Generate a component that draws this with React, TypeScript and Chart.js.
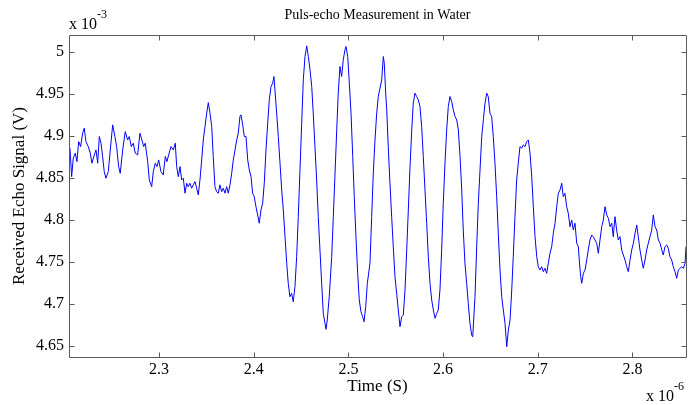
import { useEffect, useRef } from 'react';
import { Chart, registerables } from 'chart.js';

Chart.register(...registerables);

// Time in units of 1e-6 s
const timeUs = [
  2.2060, 2.2078, 2.2095, 2.2116, 2.2134, 2.2152, 2.2173, 2.2194, 2.2211, 2.2229,
  2.2253, 2.2275, 2.2292, 2.2317, 2.2335, 2.2353, 2.2370, 2.2388, 2.2405, 2.2422,
  2.2440, 2.2465, 2.2486, 2.2511, 2.2535, 2.2553, 2.2574, 2.2591, 2.2617, 2.2644,
  2.2669, 2.2686, 2.2708, 2.2729, 2.2750, 2.2775, 2.2799, 2.2820, 2.2838, 2.2855,
  2.2881, 2.2898, 2.2923, 2.2940, 2.2961, 2.2979, 2.2997, 2.3021, 2.3045, 2.3067,
  2.3084, 2.3102, 2.3127, 2.3151, 2.3172,
  2.3187, 2.3204, 2.3222, 2.3240, 2.3257, 2.3275, 2.3293, 2.3309, 2.3327, 2.3345,
  2.3362, 2.3380, 2.3398, 2.3415, 2.3433, 2.3451, 2.3468, 2.3486, 2.3504, 2.3521,
  2.3539, 2.3557, 2.3573, 2.3591, 2.3609, 2.3626, 2.3644, 2.3662, 2.3679, 2.3697,
  2.3715, 2.3732, 2.3750, 2.3768, 2.3785, 2.3803, 2.3821, 2.3837, 2.3855, 2.3866,
  2.3884, 2.3901, 2.3919, 2.3937, 2.3954, 2.3972, 2.3989, 2.4006, 2.4024, 2.4042,
  2.4059, 2.4077, 2.4095, 2.4112, 2.4130, 2.4148, 2.4165, 2.4183, 2.4201, 2.4214,
  2.4243, 2.4260, 2.4278, 2.4296, 2.4313, 2.4331, 2.4349, 2.4365, 2.4383, 2.4401,
  2.4418, 2.4436, 2.4454, 2.4471, 2.4489, 2.4507, 2.4524, 2.4542, 2.4560, 2.4577,
  2.4595, 2.4613, 2.4629, 2.4647, 2.4665, 2.4682, 2.4700, 2.4718, 2.4735, 2.4753,
  2.4764, 2.4777, 2.4798, 2.4824, 2.4841, 2.4859, 2.4877, 2.4893, 2.4911, 2.4929,
  2.4946, 2.4964, 2.4975, 2.4993, 2.5010, 2.5028, 2.5046, 2.5062, 2.5080, 2.5098,
  2.5115, 2.5133, 2.5151, 2.5165, 2.5183, 2.5200,
  2.5228, 2.5246, 2.5263, 2.5281, 2.5299, 2.5316, 2.5334, 2.5352, 2.5369, 2.5379,
  2.5394, 2.5405, 2.5421, 2.5439, 2.5457, 2.5474, 2.5492, 2.5510, 2.5527, 2.5545,
  2.5563, 2.5580, 2.5598, 2.5616, 2.5633, 2.5651, 2.5669, 2.5685, 2.5703, 2.5721,
  2.5738, 2.5756, 2.5774, 2.5791, 2.5809, 2.5827, 2.5844, 2.5862, 2.5880, 2.5897,
  2.5915, 2.5933, 2.5949, 2.5967, 2.5985, 2.6002, 2.6020, 2.6038, 2.6055, 2.6073,
  2.6091, 2.6108, 2.6126, 2.6144, 2.6161, 2.6179, 2.6197, 2.6213, 2.6231, 2.6249,
  2.6266, 2.6284, 2.6302, 2.6313,
  2.6337, 2.6355, 2.6372, 2.6390, 2.6408, 2.6425, 2.6443, 2.6461, 2.6477, 2.6495,
  2.6513, 2.6530, 2.6548, 2.6566, 2.6583, 2.6601, 2.6619, 2.6636, 2.6654, 2.6672,
  2.6689, 2.6707, 2.6725, 2.6741, 2.6759, 2.6777, 2.6794, 2.6812, 2.6830, 2.6847,
  2.6865, 2.6883, 2.6900, 2.6918, 2.6936, 2.6953, 2.6971, 2.6989, 2.7005, 2.7023,
  2.7041, 2.7058, 2.7076, 2.7094, 2.7111, 2.7129, 2.7147, 2.7164, 2.7182, 2.7200,
  2.7217, 2.7235, 2.7253, 2.7269, 2.7287, 2.7305, 2.7322, 2.7340, 2.7358, 2.7375,
  2.7393,
  2.7411, 2.7428, 2.7438, 2.7453, 2.7464, 2.7481, 2.7499, 2.7517, 2.7533, 2.7551,
  2.7569, 2.7586, 2.7604, 2.7622, 2.7639, 2.7657, 2.7675, 2.7692, 2.7710, 2.7728,
  2.7745, 2.7763, 2.7781, 2.7797, 2.7815, 2.7833, 2.7850, 2.7868, 2.7886, 2.7903,
  2.7921, 2.7939, 2.7956, 2.7974, 2.7992, 2.8009, 2.8027, 2.8045, 2.8061, 2.8079,
  2.8097, 2.8114, 2.8132, 2.8150, 2.8167, 2.8185, 2.8203, 2.8220, 2.8238, 2.8256,
  2.8273, 2.8291, 2.8309, 2.8325, 2.8343, 2.8361, 2.8378, 2.8396, 2.8414, 2.8431,
  2.8449, 2.8467, 2.8484, 2.8502, 2.8520, 2.8537, 2.8555, 2.8565,
];

// Received echo signal in units of 1e-3 V
const echoMv = [
  4.8854, 4.8515, 4.8734, 4.8794, 4.8694, 4.8932, 4.8873, 4.9032, 4.9092, 4.8932,
  4.8873, 4.8794, 4.8675, 4.8774, 4.8833, 4.8675, 4.8992, 4.8913, 4.8754, 4.8575,
  4.8496, 4.8575, 4.8833, 4.9131, 4.8992, 4.8873, 4.8635, 4.8556, 4.8833, 4.9051,
  4.8952, 4.8992, 4.8873, 4.8913, 4.8794, 4.8774, 4.9032, 4.8952, 4.8873, 4.8913,
  4.8694, 4.8476, 4.8396, 4.8575, 4.8675, 4.8635, 4.8714, 4.8575, 4.8536, 4.8754,
  4.8694, 4.8774, 4.8873, 4.8833, 4.8913,
  4.8635, 4.8515, 4.8635, 4.8476, 4.8496, 4.8318, 4.8437, 4.8396, 4.8437, 4.8377,
  4.8417, 4.8456, 4.8377, 4.8298, 4.8476, 4.8714, 4.8952, 4.9111, 4.9270, 4.9396,
  4.9270, 4.9111, 4.8754, 4.8396, 4.8337, 4.8318, 4.8417, 4.8337, 4.8377, 4.8318,
  4.8396, 4.8318, 4.8417, 4.8556, 4.8714, 4.8833, 4.8952, 4.9032, 4.9230, 4.9250,
  4.9131, 4.8992, 4.8992, 4.8714, 4.8595, 4.8515, 4.8318, 4.8277, 4.8158, 4.8060,
  4.7961, 4.8119, 4.8199, 4.8437, 4.8833, 4.9151, 4.9429, 4.9587, 4.9627, 4.9706,
  4.9270, 4.8992, 4.8675, 4.8357, 4.8119, 4.7801, 4.7485, 4.7246, 4.7087, 4.7127,
  4.7027, 4.7206, 4.7563, 4.8039, 4.8595, 4.9151, 4.9667, 4.9944, 5.0071, 4.9944,
  4.9786, 4.9587, 4.9270, 4.8873, 4.8476, 4.8039, 4.7643, 4.7246, 4.6889, 4.6770,
  4.6699, 4.6810, 4.7087, 4.7563, 4.8039, 4.8556, 4.9071, 4.9508, 4.9825, 4.9706,
  4.9905, 5.0024, 5.0063, 4.9944, 4.9627, 4.9270, 4.8754, 4.8277, 4.7801, 4.7365,
  4.7048, 4.6908, 4.6849, 4.6789, 4.6968, 4.7246,
  4.7485, 4.8039, 4.8556, 4.8952, 4.9270, 4.9468, 4.9568, 4.9667, 4.9944, 4.9865,
  4.9508, 4.9310, 4.8873, 4.8437, 4.8039, 4.7682, 4.7325, 4.7127, 4.6929, 4.6730,
  4.6849, 4.6869, 4.7167, 4.7643, 4.8119, 4.8635, 4.9071, 4.9389, 4.9508, 4.9468,
  4.9429, 4.9349, 4.9111, 4.8754, 4.8357, 4.7961, 4.7563, 4.7246, 4.7048, 4.6929,
  4.6830, 4.6889, 4.6929, 4.7167, 4.7643, 4.8199, 4.8675, 4.9071, 4.9349, 4.9468,
  4.9408, 4.9310, 4.9230, 4.9190, 4.9071, 4.8754, 4.8357, 4.7881, 4.7485, 4.7246,
  4.7008, 4.6770, 4.6631, 4.6611,
  4.7087, 4.7682, 4.8199, 4.8595, 4.8992, 4.9190, 4.9389, 4.9508, 4.9468, 4.9270,
  4.9230, 4.8992, 4.8675, 4.8277, 4.7842, 4.7405, 4.7087, 4.6929, 4.6770, 4.6492,
  4.6690, 4.6810, 4.7167, 4.7563, 4.8039, 4.8476, 4.8675, 4.8873, 4.8854, 4.8893,
  4.8873, 4.8932, 4.8952, 4.8794, 4.8515, 4.8158, 4.7801, 4.7563, 4.7444, 4.7405,
  4.7444, 4.7385, 4.7425, 4.7365, 4.7485, 4.7604, 4.7682, 4.7842, 4.7961, 4.8158,
  4.8318, 4.8357, 4.8437, 4.8277, 4.8318, 4.8158, 4.8080, 4.7920, 4.8000, 4.7881,
  4.7961,
  4.7723, 4.7682, 4.7524, 4.7325, 4.7246, 4.7365, 4.7405, 4.7524, 4.7643, 4.7762,
  4.7821, 4.7801, 4.7762, 4.7723, 4.7604, 4.7762, 4.7920, 4.8000, 4.8158, 4.8060,
  4.8020, 4.7920, 4.7961, 4.7801, 4.8039, 4.7881, 4.7762, 4.7801, 4.7643, 4.7583,
  4.7524, 4.7444, 4.7385, 4.7524, 4.7643, 4.7723, 4.7842, 4.7940, 4.7801, 4.7643,
  4.7524, 4.7425, 4.7524, 4.7643, 4.7723, 4.7801, 4.7881, 4.8060, 4.7920, 4.7881,
  4.7762, 4.7723, 4.7643, 4.7583, 4.7682, 4.7702, 4.7663, 4.7563, 4.7524, 4.7444,
  4.7385, 4.7306, 4.7405, 4.7425, 4.7444, 4.7425, 4.7485, 4.7682,
];

const TITLE = 'Puls-echo Measurement in Water';
const X_LABEL = 'Time (S)';
const Y_LABEL = 'Received Echo Signal (V)';
const X_EXPONENT = '-6';
const Y_EXPONENT = '-3';

const X_MIN = 2.205;
const X_MAX = 2.8565;
const Y_MIN = 4.637;
const Y_MAX = 5.02;

const FONT = '"Liberation Serif", "Times New Roman", serif';
const AXIS_COLOR = '#5a5a5a';

const fmt = (v: number | string) => String(Number(Number(v).toFixed(2)));

const matlabFrame = {
  id: 'matlabFrame',
  afterDraw(chart: any) {
    const { ctx, chartArea: a, scales } = chart;
    const L = Math.round(a.left) + 0.5;
    const R = Math.round(a.right) + 0.5;
    const T = Math.round(a.top) + 0.5;
    const B = Math.round(a.bottom) + 0.5;
    ctx.save();
    ctx.strokeStyle = AXIS_COLOR;
    ctx.lineWidth = 1;
    ctx.beginPath();
    ctx.rect(L, T, R - L, B - T);
    const tl = 5;
    scales.x.ticks.forEach((_t: any, i: number) => {
      const px = Math.round(scales.x.getPixelForTick(i)) + 0.5;
      ctx.moveTo(px, B);
      ctx.lineTo(px, B - tl);
      ctx.moveTo(px, T);
      ctx.lineTo(px, T + tl);
    });
    scales.y.ticks.forEach((_t: any, i: number) => {
      const py = Math.round(scales.y.getPixelForTick(i)) + 0.5;
      ctx.moveTo(L, py);
      ctx.lineTo(L + tl, py);
      ctx.moveTo(R, py);
      ctx.lineTo(R - tl, py);
    });
    ctx.stroke();

    ctx.fillStyle = '#000';
    ctx.textBaseline = 'middle';
    const cx = (a.left + a.right) / 2;
    const cy = (a.top + a.bottom) / 2;

    ctx.textAlign = 'center';
    ctx.font = `14px ${FONT}`;
    ctx.fillText(TITLE, cx, 15);
    ctx.font = `17px ${FONT}`;
    ctx.fillText(X_LABEL, cx, 387);

    ctx.save();
    ctx.translate(20, cy);
    ctx.rotate(-Math.PI / 2);
    ctx.fillText(Y_LABEL, 0, 0);
    ctx.restore();

    // exponent labels
    ctx.textAlign = 'left';
    ctx.font = `16px ${FONT}`;
    const base = 'x 10';
    const w = ctx.measureText(base).width;
    ctx.fillText(base, a.left, 25);
    ctx.font = `12px ${FONT}`;
    ctx.fillText(Y_EXPONENT, a.left + w, 15);

    ctx.font = `16px ${FONT}`;
    const bx = 646;
    ctx.fillText(base, bx, 397);
    ctx.font = `12px ${FONT}`;
    ctx.fillText(X_EXPONENT, bx + w, 387);
    ctx.restore();
  },
};

export default function App() {
  const ref = useRef<HTMLCanvasElement>(null);
  useEffect(() => {
    if (!ref.current) return;
    const points = timeUs.map((t, i) => ({ x: t, y: echoMv[i] }));
    const chart = new Chart(ref.current, {
      type: 'line',
      data: {
        datasets: [
          {
            data: points,
            borderColor: '#0000ff',
            borderWidth: 1,
            pointRadius: 0,
            tension: 0,
            fill: false,
          },
        ],
      },
      options: {
        animation: false,
        responsive: false,
        events: [],
        layout: { padding: { top: 35, right: 12, left: 0, bottom: 0 } },
        plugins: { legend: { display: false }, tooltip: { enabled: false }, title: { display: false } },
        scales: {
          x: {
            type: 'linear',
            min: X_MIN,
            max: X_MAX,
            grid: { display: false, drawTicks: false },
            border: { display: false },
            ticks: {
              stepSize: 0.1,
              includeBounds: false,
              padding: 3,
              color: '#000',
              maxRotation: 0,
              autoSkip: false,
              font: { family: FONT, size: 16 },
              callback: (v: any) => fmt(v),
            },
            afterFit: (s: any) => {
              s.height = 48;
            },
          },
          y: {
            type: 'linear',
            min: Y_MIN,
            max: Y_MAX,
            grid: { display: false, drawTicks: false },
            border: { display: false },
            ticks: {
              stepSize: 0.05,
              includeBounds: false,
              padding: 5,
              color: '#000',
              autoSkip: false,
              font: { family: FONT, size: 16 },
              callback: (v: any) => fmt(v),
            },
            afterFit: (s: any) => {
              s.width = 69;
            },
          },
        },
      },
      plugins: [matlabFrame],
    });
    return () => chart.destroy();
  }, []);
  return (
    <div style={{ position: 'absolute', left: 0, top: 0, width: 698, height: 405, background: '#fff' }}>
      <canvas ref={ref} width={698} height={405} />
    </div>
  );
}
